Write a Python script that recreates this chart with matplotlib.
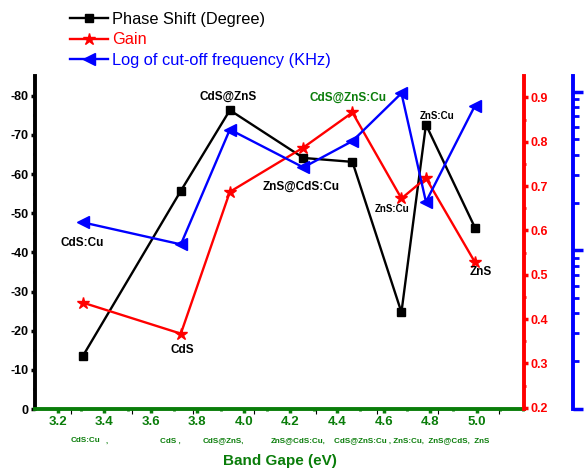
import numpy as np
import matplotlib
matplotlib.use("Agg")
import matplotlib.pyplot as plt
from matplotlib.ticker import MultipleLocator, LogLocator, NullFormatter
from matplotlib.lines import Line2D

plt.rcParams['font.family'] = ['Liberation Sans', 'DejaVu Sans']

# data
band_gap = [3.3, 3.7, 3.9, 4.2, 4.4, 4.6, 4.7, 4.9]
phase_shift = [-13.5, -55.7, -76.3, -64.1, -63.1, -24.7, -72.6, -46.3]
gain = [0.437, 0.367, 0.687, 0.787, 0.866, 0.672, 0.718, 0.528]
cutoff_freq = [15.0, 10.9, 57.7, 33.3, 48.8, 97.7, 20.2, 81.6]

point_labels = ["CdS:Cu", "CdS", "CdS@ZnS", "ZnS@CdS:Cu", "CdS@ZnS:Cu",
                "ZnS:Cu", "ZnS:Cu", "ZnS"]
gap_ticks = [3.2, 3.4, 3.6, 3.8, 4.0, 4.2, 4.4, 4.6, 4.8, 5.0]

green = "#0a7d0a"

fig = plt.figure(figsize=(5.86, 4.72), dpi=100)
ax = fig.add_axes([35 / 586, 1 - 409 / 472, 489 / 586, 333.3 / 472])

# phase shift on main axis
ax.plot(band_gap, phase_shift, color="black", lw=1.7, marker="s", ms=6, zorder=3)
ax.set_xlim(3.105, 5.1)
ax.set_ylim(0, -85.1)
ax.yaxis.set_minor_locator(MultipleLocator(5))
ax.set_yticks(np.arange(0, -81, -10))
ax.set_yticklabels(["0", "-10", "-20", "-30", "-40", "-50", "-60", "-70", "-80"])
ax.tick_params(axis="y", which="major", direction="out", length=3, width=2.5,
               labelsize=9, pad=1.5)
ax.tick_params(axis="y", which="minor", direction="out", length=1.5, width=2)
for lab in ax.get_yticklabels():
    lab.set_fontweight("bold")
ax.tick_params(axis="x", which="both", bottom=False, labelbottom=False)
ax.spines["top"].set_visible(False)
ax.spines["right"].set_visible(False)
ax.spines["left"].set_linewidth(2.8)
ax.spines["bottom"].set_color(green)
ax.spines["bottom"].set_linewidth(2.8)

# band gap tick axis (separate scale, as in the original)
axx = ax.twiny()
axx.set_xlim(3.1025, 5.203)
axx.xaxis.set_ticks_position("bottom")
axx.xaxis.set_label_position("bottom")
axx.set_xticks(gap_ticks)
axx.set_xticklabels([f"{t:.1f}" for t in gap_ticks])
axx.xaxis.set_minor_locator(MultipleLocator(0.1))
axx.tick_params(axis="x", which="major", direction="out", length=3, width=2.5,
                colors=green, labelsize=9.5, pad=2)
axx.tick_params(axis="x", which="minor", direction="out", length=1.5, width=2,
                colors=green)
for lab in axx.get_xticklabels():
    lab.set_fontweight("bold")
for s in axx.spines.values():
    s.set_visible(False)

# gain axis
ax2 = ax.twinx()
ax2.plot(band_gap, gain, color="red", lw=1.7, marker="*", ms=9, zorder=3)
ax2.set_ylim(0.197, 0.949)
ax2.yaxis.set_major_locator(MultipleLocator(0.1))
ax2.yaxis.set_minor_locator(MultipleLocator(0.05))
ax2.tick_params(axis="y", which="major", direction="out", length=3, width=2.5,
                colors="red", labelsize=9, pad=1.5)
ax2.tick_params(axis="y", which="minor", direction="out", length=1.5, width=2,
                colors="red")
for lab in ax2.get_yticklabels():
    lab.set_fontweight("bold")
for k in ["top", "left", "bottom"]:
    ax2.spines[k].set_visible(False)
ax2.spines["right"].set_color("red")
ax2.spines["right"].set_linewidth(2.8)

# cut-off frequency axis (log)
ax3 = ax.twinx()
ax3.plot(band_gap, cutoff_freq, color="blue", lw=1.7, marker="<", ms=8, zorder=3)
ax3.set_yscale("log")
ax3.set_ylim(1, 126)
ax3.spines["right"].set_position(("axes", 1 + 49 / 489))
ax3.yaxis.set_major_locator(LogLocator(base=10))
ax3.yaxis.set_minor_locator(LogLocator(base=10, subs=np.arange(2, 10)))
ax3.yaxis.set_minor_formatter(NullFormatter())
ax3.tick_params(axis="y", which="major", direction="out", length=7, width=2.5,
                colors="blue", labelright=False)
ax3.tick_params(axis="y", which="minor", direction="out", length=4, width=2,
                colors="blue", labelright=False)
for k in ["top", "left", "bottom"]:
    ax3.spines[k].set_visible(False)
ax3.spines["right"].set_color("blue")
ax3.spines["right"].set_linewidth(2.8)

# point annotations
label_pos = [(0.096, 0.497, 8.5), (0.301, 0.177, 8.5), (0.395, 0.937, 8.5),
             (0.545, 0.667, 8.5), (0.641, 0.935, 8.5), (0.822, 0.879, 7),
             (0.730, 0.600, 7), (0.912, 0.412, 8.5)]
for name, (fx, fy, fs) in zip(point_labels, label_pos):
    col = green if name == "CdS@ZnS:Cu" else "black"
    ax3.text(fx, fy, name, transform=ax3.transAxes, ha="center", va="center",
             fontsize=fs, fontweight="bold", color=col)

# compound names under the band gap ticks
row_text = [(70.7, "CdS:Cu"), (106, ","), (160, "CdS ,"), (203, "CdS@ZnS,"),
            (270.7, "ZnS@CdS:Cu,"), (334, "CdS@ZnS:Cu , ZnS:Cu,  ZnS@CdS,  ZnS")]
for px, txt in row_text:
    fig.text(px / 586, 1 - 441 / 472, txt, ha="left", va="center",
             fontsize=5.8, fontweight="bold", color=green)

fig.text(279.5 / 586, 1 - 461 / 472, "Band Gape (eV)", ha="center", va="center",
         fontsize=11, fontweight="bold", color=green)

handles = [
    Line2D([], [], color="black", lw=1.7, marker="s", ms=6),
    Line2D([], [], color="red", lw=1.7, marker="*", ms=9),
    Line2D([], [], color="blue", lw=1.7, marker="<", ms=8),
]
names = ["Phase Shift (Degree)", "Gain", "Log of cut-off frequency (KHz)"]
leg = fig.legend(handles, names, loc="upper left",
                 bbox_to_anchor=(60 / 586, 1 - 2 / 472),
                 frameon=False, fontsize=11.8, handlelength=2.3, handletextpad=0.3,
                 labelspacing=0.34, borderaxespad=0.2)
for t, c in zip(leg.get_texts(), ["black", "red", "blue"]):
    t.set_color(c)

fig.savefig("out.png", dpi=100)
